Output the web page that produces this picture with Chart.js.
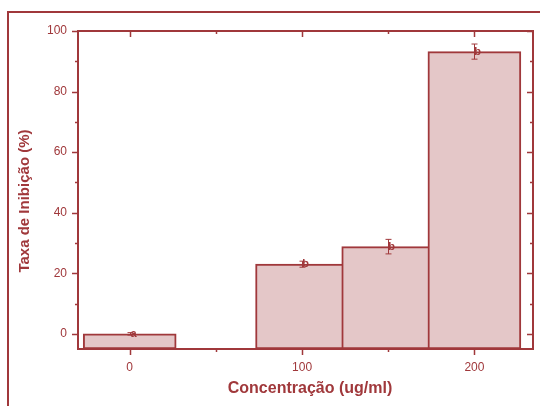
<!DOCTYPE html>
<html>
<head>
<meta charset="utf-8">
<script src="https://cdn.jsdelivr.net/npm/chart.js@4"></script>
<style>
  html, body { margin: 0; padding: 0; background: #fff; }
  #wrap { width: 540px; height: 406px; position: relative; overflow: hidden; }
</style>
</head>
<body>
<div id="wrap"><canvas id="chart" width="540" height="406"></canvas></div>
<script>
// Inhibition rate by concentration, mean ± error, with significance groups
const concentrations = [0, 100, 150, 200];
const inhibition = [0, 23, 28.8, 93.2];
const inhibitionError = [0.4, 1, 2.4, 2.5];
const groupLetters = ['a', 'b', 'b', 'b'];

const yMajorTicks = [0, 20, 40, 60, 80, 100];
const yMinorTicks = [10, 30, 50, 70, 90];
const xMajorTicks = [0, 100, 200];
const xMinorTicks = [50, 150];

const xAxisTitle = 'Concentração (ug/ml)';
const yAxisTitle = 'Taxa de Inibição (%)';

const INK = '#a0383b';
const FILL = '#e4c7c8';
const FONT = "'Liberation Sans', Arial, sans-serif";

// Axis box, inward/outward tick marks, error bars, letters and titles
const decorations = {
  id: 'decorations',
  beforeDraw(chart) {
    const ctx = chart.ctx;
    ctx.save();
    ctx.strokeStyle = INK;
    ctx.lineWidth = 2;
    ctx.strokeRect(8, 12, 800, 800);
    ctx.restore();
  },
  afterDatasetsDraw(chart) {
    const ctx = chart.ctx;
    const xs = chart.scales.x, ys = chart.scales.y;
    ctx.save();
    ctx.strokeStyle = INK;
    ctx.fillStyle = INK;
    ctx.lineWidth = 1;
    concentrations.forEach((c, i) => {
      const px = Math.round(xs.getPixelForValue(c)) + 0.5;
      const top = ys.getPixelForValue(inhibition[i] + inhibitionError[i]);
      const bot = ys.getPixelForValue(inhibition[i] - inhibitionError[i]);
      ctx.beginPath();
      ctx.moveTo(px, top); ctx.lineTo(px, bot);
      ctx.moveTo(px - 3, top); ctx.lineTo(px + 3, top);
      ctx.moveTo(px - 3, bot); ctx.lineTo(px + 3, bot);
      ctx.stroke();
      ctx.font = 'bold 11px ' + FONT;
      ctx.textAlign = 'center';
      ctx.textBaseline = 'middle';
      ctx.fillText(groupLetters[i], px + 3, ys.getPixelForValue(inhibition[i]));
    });
    ctx.restore();
  },
  afterDraw(chart) {
    const ctx = chart.ctx;
    const a = chart.chartArea;
    const xs = chart.scales.x, ys = chart.scales.y;
    ctx.save();
    ctx.strokeStyle = INK;
    ctx.lineWidth = 2;
    ctx.strokeRect(a.left, a.top, a.right - a.left, a.bottom - a.top);
    ctx.lineWidth = 1.5;
    ctx.beginPath();
    const yTick = (v, len) => {
      const py = Math.round(ys.getPixelForValue(v)) + 0.5;
      ctx.moveTo(a.left, py); ctx.lineTo(a.left - len, py);
      ctx.moveTo(a.right, py); ctx.lineTo(a.right - len, py);
    };
    const xTick = (v, len) => {
      const px = Math.round(xs.getPixelForValue(v)) + 0.5;
      ctx.moveTo(px, a.bottom); ctx.lineTo(px, a.bottom + len);
      ctx.moveTo(px, a.top); ctx.lineTo(px, a.top + len);
    };
    yMajorTicks.forEach(v => yTick(v, 6));
    yMinorTicks.forEach(v => yTick(v, 3));
    xMajorTicks.forEach(v => xTick(v, 6));
    xMinorTicks.forEach(v => xTick(v, 3));
    ctx.stroke();

    ctx.fillStyle = INK;
    ctx.textAlign = 'center';
    ctx.textBaseline = 'middle';
    ctx.font = 'bold 16px ' + FONT;
    ctx.fillText(xAxisTitle, 310, 389);
    ctx.font = 'bold 15px ' + FONT;
    ctx.translate(25, 201);
    ctx.rotate(-Math.PI / 2);
    ctx.fillText(yAxisTitle, 0, 0);
    ctx.restore();
  }
};

new Chart(document.getElementById('chart'), {
  type: 'bar',
  data: {
    datasets: [{
      data: concentrations.map((c, i) => ({ x: c, y: inhibition[i] })),
      backgroundColor: FILL,
      borderColor: INK,
      borderWidth: 2,
      borderSkipped: false,
      barThickness: 93,
      base: -5
    }]
  },
  options: {
    responsive: false,
    animation: false,
    devicePixelRatio: 1,
    layout: { padding: { top: 31, right: 7, left: 0, bottom: 0 } },
    plugins: { legend: { display: false }, tooltip: { enabled: false } },
    scales: {
      x: {
        type: 'linear',
        min: -30,
        max: 234,
        offset: false,
        grid: { display: false, drawTicks: true, tickLength: 6, offset: false },
        border: { display: false },
        afterBuildTicks: s => { s.ticks = xMajorTicks.map(v => ({ value: v })); },
        afterFit: s => { s.height = 57; },
        ticks: { color: INK, padding: 5, font: { family: FONT, size: 12 }, maxRotation: 0 }
      },
      y: {
        min: -5,
        max: 100,
        grid: { display: false, drawTicks: true, tickLength: 6 },
        border: { display: false },
        afterBuildTicks: s => { s.ticks = yMajorTicks.map(v => ({ value: v })); },
        afterFit: s => { s.width = 78; },
        ticks: { color: INK, padding: 5, font: { family: FONT, size: 12 } }
      }
    }
  },
  plugins: [decorations]
});
</script>
</body>
</html>
